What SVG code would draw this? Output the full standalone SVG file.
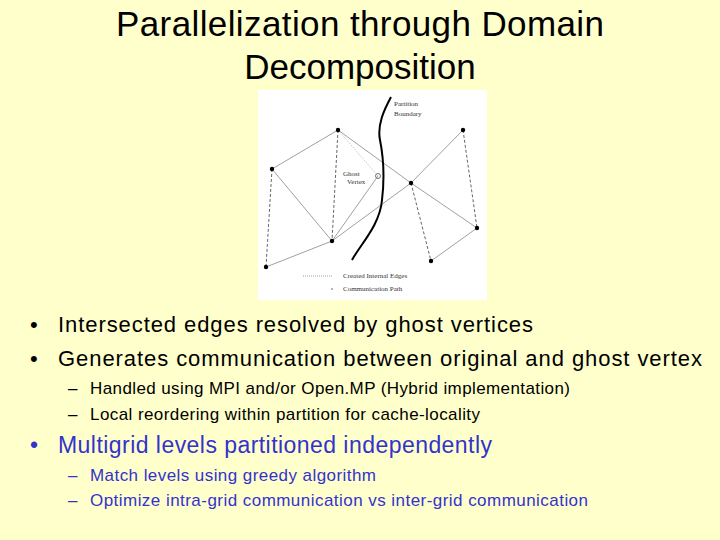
<svg xmlns="http://www.w3.org/2000/svg" width="720" height="540" viewBox="0 0 720 540">
<style>
.t{font-family:"Liberation Sans",Arial,sans-serif;fill:#000}
.b{font-family:"Liberation Sans",Arial,sans-serif;fill:#3333CC}
.e{stroke:#888;stroke-width:0.8;fill:none}
.d{stroke:#555;stroke-width:0.9;stroke-dasharray:3 2;fill:none}
.n{fill:#000}
.s{font-family:"Liberation Serif",serif;font-size:7px;fill:#333}
</style>
<rect width="720" height="540" fill="#FFFFCC"/>
<g id="title"><text class="t" x="360" y="36" font-size="35" text-anchor="middle" textLength="488">Parallelization through Domain</text>
<text class="t" x="360" y="79" font-size="35" text-anchor="middle">Decomposition</text></g>
<g id="figure">
<rect x="258" y="90" width="229" height="210" fill="#fff"/>
<g id="connectors">
<path class="e" d="M338,130L272,169M272,169L332,241M266,267L332,241M338,130L411,183M332,241L411,183M411,183L463,130M411,183L477,228M431,261L477,228M332,241L378,176"/>
<path class="d" d="M272,169L266,267M338,130L332,241M463,130L477,228M411,183L431,261"/>
<path stroke="#999" stroke-width="0.7" stroke-dasharray="1 1.5" fill="none" d="M338,130L378,176"/>
<path stroke="#000" stroke-width="2" fill="none" d="M391,97C384,110 377,125 380,140C383,155 385,175 382,200C380,225 360,245 352,260"/>
</g>
<g id="nodes">
<circle class="n" cx="338" cy="130" r="2.2"/><circle class="n" cx="272" cy="169" r="2.2"/>
<circle class="n" cx="266" cy="267" r="2.2"/><circle class="n" cx="332" cy="241" r="2.2"/>
<circle class="n" cx="411" cy="183" r="2.2"/><circle class="n" cx="463" cy="130" r="2.2"/>
<circle class="n" cx="477" cy="228" r="2.2"/><circle class="n" cx="431" cy="261" r="2.2"/>
<circle cx="378" cy="176" r="2.5" fill="none" stroke="#555" stroke-width="0.8"/>
</g>
<text class="s" x="394" y="106">Partition</text><text class="s" x="394" y="116">Boundary</text>
<text class="s" x="343" y="176">Ghost</text><text class="s" x="347" y="184">Vertex</text>
<path stroke="#777" stroke-width="0.7" stroke-dasharray="1 1" d="M303,276H332"/>
<circle cx="332" cy="289" r="0.7" fill="#333"/>
<text class="s" x="343" y="278">Created Internal Edges</text>
<text class="s" x="343" y="291">Communication Path</text>
</g>
<g id="bullets">
<text class="t" x="30" y="332" font-size="22">•</text><text class="t" x="58" y="332" font-size="22" textLength="475">Intersected edges resolved by ghost vertices</text>
<text class="t" x="30" y="366" font-size="22">•</text><text class="t" x="58" y="366" font-size="22" textLength="644">Generates communication between original and ghost vertex</text>
<text class="t" x="68" y="394" font-size="17">–</text><text class="t" x="90" y="394" font-size="17" textLength="480">Handled using MPI and/or Open.MP (Hybrid implementation)</text>
<text class="t" x="68" y="420" font-size="17">–</text><text class="t" x="90" y="420" font-size="17" textLength="390">Local reordering within partition for cache-locality</text>
<text class="b" x="30" y="453" font-size="23">•</text><text class="b" x="58" y="453" font-size="23" textLength="434">Multigrid levels partitioned independently</text>
<text class="b" x="68" y="481" font-size="17">–</text><text class="b" x="90" y="481" font-size="17" textLength="286">Match levels using greedy algorithm</text>
<text class="b" x="68" y="506" font-size="17">–</text><text class="b" x="90" y="506" font-size="17" textLength="498">Optimize intra-grid communication vs inter-grid communication</text>
</g>
</svg>
